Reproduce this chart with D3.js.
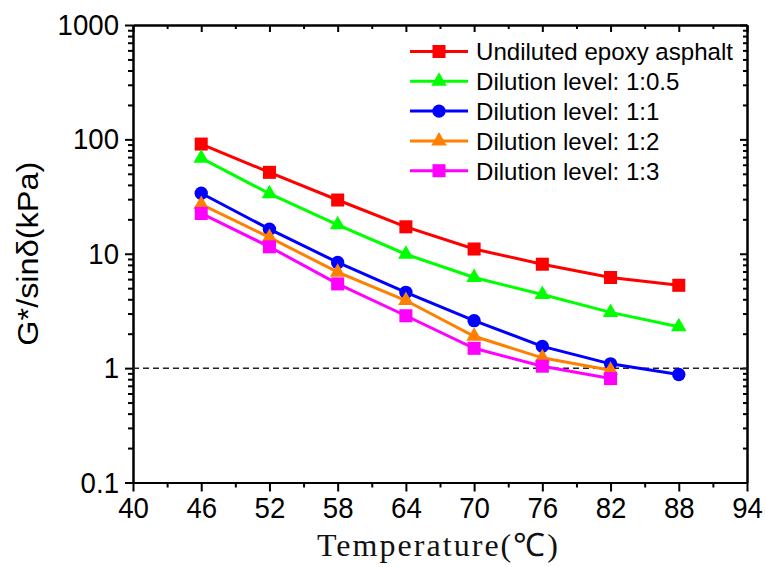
<!DOCTYPE html>
<html>
<head>
<meta charset="utf-8">
<script src="https://cdn.jsdelivr.net/npm/d3@7"></script>
<style>
  html, body { margin: 0; padding: 0; background: #fff; }
  svg { display: block; }
</style>
</head>
<body>
<svg id="chart" width="766" height="567"></svg>
<script>
// ---- data ----
const temperatures = [46, 52, 58, 64, 70, 76, 82, 88];
const undiluted = [91, 51.5, 29.5, 17.2, 11.0, 8.1, 6.2, 5.3];
const dilution05 = [68.5, 33.5, 17.9, 9.9, 6.2, 4.4, 3.07, 2.3];
const dilution1 = [33.8, 16.4, 8.4, 4.6, 2.6, 1.55, 1.09, 0.88];
const dilution2 = [27, 13.9, 6.9, 3.9, 1.9, 1.23, 0.96];
const dilution3 = [22.5, 11.5, 5.45, 2.87, 1.49, 1.04, 0.81];
const seriesNames = ["Undiluted epoxy asphalt", "Dilution level: 1:0.5", "Dilution level: 1:1", "Dilution level: 1:2", "Dilution level: 1:3"];
const xTickValues = [40, 46, 52, 58, 64, 70, 76, 82, 88, 94];
const yTickValues = [0.1, 1, 10, 100, 1000];
const referenceLevel = 1;

(function () {
const seriesList = [
  { name: seriesNames[0], values: undiluted, color: "#ff0000", symbol: d3.symbolSquare, size: 170 },
  { name: seriesNames[1], values: dilution05, color: "#00ff00", symbol: d3.symbolTriangle, size: 105 },
  { name: seriesNames[2], values: dilution1, color: "#0000ff", symbol: d3.symbolCircle, size: 140 },
  { name: seriesNames[3], values: dilution2, color: "#ff8000", symbol: d3.symbolTriangle, size: 105 },
  { name: seriesNames[4], values: dilution3, color: "#ff00ff", symbol: d3.symbolSquare, size: 170 }
];

// ---- layout ----
const svg = d3.select("#chart");
const pLeft = 133, pRight = 747, pTop = 25, pBottom = 482.5;

const x = d3.scaleLinear().domain([40, 94]).range([pLeft, pRight]);
const y = d3.scaleLog().domain([0.1, 1000]).range([pBottom, pTop]);

const minorX = d3.range(40, 95, 3).filter(v => !xTickValues.includes(v));
const minorY = [];
[0.1, 1, 10, 100].forEach(d => { for (let k = 2; k <= 9; k++) minorY.push(d * k); });

const font = "'Liberation Sans', Arial, sans-serif";

// bottom axis (outward ticks)
const gB = svg.append("g").attr("transform", `translate(0,${pBottom})`);
gB.call(d3.axisBottom(x).tickValues(xTickValues).tickSize(9).tickSizeOuter(0).tickPadding(5).tickFormat(d3.format("d")));
gB.append("g").call(d3.axisBottom(x).tickValues(minorX).tickSize(5).tickSizeOuter(0).tickFormat(""));
// top axis (inward ticks)
const gT = svg.append("g").attr("transform", `translate(0,${pTop})`);
gT.call(d3.axisBottom(x).tickValues(xTickValues).tickSize(7).tickSizeOuter(0).tickFormat(""));
gT.append("g").call(d3.axisBottom(x).tickValues(minorX).tickSize(4).tickSizeOuter(0).tickFormat(""));
// left axis (outward ticks)
const gL = svg.append("g").attr("transform", `translate(${pLeft},0)`);
gL.call(d3.axisLeft(y).tickValues(yTickValues).tickSize(8).tickSizeOuter(0).tickPadding(6).tickFormat(d => d3.format("~g")(d)));
gL.append("g").call(d3.axisLeft(y).tickValues(minorY).tickSize(5).tickSizeOuter(0).tickFormat(""));
// right axis (inward ticks)
const gR = svg.append("g").attr("transform", `translate(${pRight},0)`);
gR.call(d3.axisLeft(y).tickValues(yTickValues).tickSize(7).tickSizeOuter(0).tickFormat(""));
gR.append("g").call(d3.axisLeft(y).tickValues(minorY).tickSize(4).tickSizeOuter(0).tickFormat(""));

svg.selectAll(".domain").attr("stroke", "#000").attr("stroke-width", 2);
svg.selectAll(".tick line").attr("stroke", "#000").attr("stroke-width", 2);
gR.selectAll(".tick line").attr("x2", function () { return -Math.abs(+d3.select(this).attr("x2")); });

// tick labels: slightly condensed, tall digits
svg.selectAll(".tick text").attr("font-family", font).attr("font-size", 30).attr("fill", "#000")
  .each(function () {
    const w = this.getComputedTextLength();
    if (w > 0) d3.select(this).attr("textLength", w * 0.92).attr("lengthAdjust", "spacingAndGlyphs");
  });

// reference dashed line at 1
svg.append("line")
  .attr("x1", pLeft).attr("x2", pRight)
  .attr("y1", y(referenceLevel)).attr("y2", y(referenceLevel))
  .attr("stroke", "#222").attr("stroke-width", 1.5).attr("stroke-dasharray", "6,4");

// series
const line = d3.line().x(d => x(d[0])).y(d => y(d[1]));
seriesList.forEach(s => {
  const pts = s.values.map((v, i) => [temperatures[i], v]);
  svg.append("path").datum(pts)
    .attr("fill", "none").attr("stroke", s.color).attr("stroke-width", 3)
    .attr("d", line);
  svg.append("g").selectAll("path").data(pts).join("path")
    .attr("transform", d => `translate(${x(d[0])},${y(d[1])})`)
    .attr("d", d3.symbol().type(s.symbol).size(s.size))
    .attr("fill", s.color);
});

// legend
const legend = svg.append("g");
let legendFactor = null;
seriesList.forEach((s, i) => {
  const ly = 51.5 + i * 29.8;
  legend.append("line").attr("x1", 410).attr("x2", 468).attr("y1", ly).attr("y2", ly)
    .attr("stroke", s.color).attr("stroke-width", 3);
  legend.append("path").attr("transform", `translate(439,${ly})`)
    .attr("d", d3.symbol().type(s.symbol).size(s.size)).attr("fill", s.color);
  const t = legend.append("text").attr("x", 476).attr("y", ly).attr("dy", "0.36em")
    .attr("font-family", font).attr("font-size", 24.5).attr("fill", "#000")
    .text(s.name);
  const w = t.node().getComputedTextLength();
  if (legendFactor === null) legendFactor = 257 / w;
  t.attr("textLength", w * legendFactor).attr("lengthAdjust", "spacingAndGlyphs");
});

// axis titles
svg.append("text")
  .attr("transform", `translate(38,${(pTop + pBottom) / 2}) rotate(-90)`)
  .attr("text-anchor", "middle")
  .attr("font-family", font).attr("font-size", 29).attr("fill", "#000")
  .attr("textLength", 184).attr("lengthAdjust", "spacingAndGlyphs")
  .text("G*/sinδ(kPa)");

svg.append("text")
  .attr("x", 437.5).attr("y", 556)
  .attr("text-anchor", "middle")
  .attr("font-family", "'Liberation Serif', 'Times New Roman', serif")
  .attr("font-size", 32).attr("fill", "#111")
  .attr("textLength", 241).attr("lengthAdjust", "spacing")
  .text("Temperature(℃)");
})();
</script>
</body>
</html>
